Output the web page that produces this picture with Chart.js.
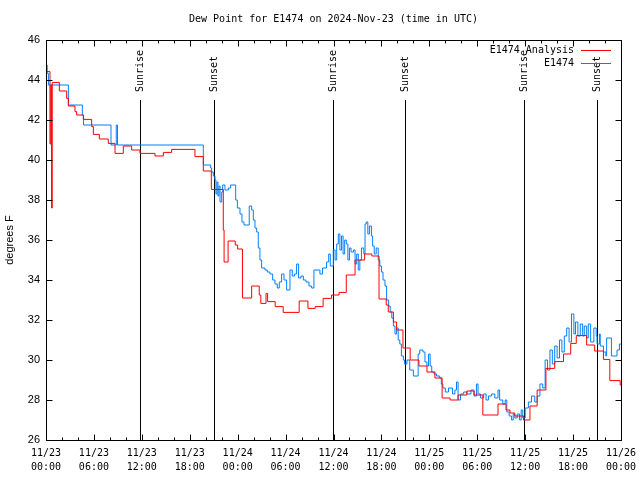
<!DOCTYPE html>
<html>
<head>
<meta charset="utf-8">
<script src="https://cdn.jsdelivr.net/npm/chart.js@4/dist/chart.umd.min.js"></script>
<style>
  html, body { margin: 0; padding: 0; background: #fff; }
  canvas { display: block; }
</style>
</head>
<body>
<canvas id="dewpoint" width="640" height="480"></canvas>
<script>
// hours since 11/23 00:00 UTC, value holds until the next entry
const anaHours = [0, 0.5, 0.6, 0.7, 0.78, 1.67, 2.59, 2.8, 3.63, 3.84, 4.67, 5.72, 5.93, 6.68, 7.8, 8.64, 9.68, 10.72, 11.77, 13.65,
    14.69, 15.73, 18.65, 19.7, 20.7, 22.2, 22.3, 22.8, 23.7, 24.0, 24.6, 25.75, 26.7, 26.9, 27.55, 27.75, 28.7, 29.7, 31.7, 32.8,
    33.7, 34.7, 35.76, 36.7, 37.6, 38.7, 39.9, 40.8, 41.7, 42.6, 42.86, 43.5, 43.9, 44.7, 45.6, 46.7, 47.7, 48.7, 49.6, 50.6,
    51.6, 52.7, 53.6, 54.7, 56.6, 57.6, 58.1, 58.7, 59.8, 60.6, 61.5, 62.6, 63.7, 64.8, 65.7, 66.4, 67.7, 68.7, 69.8, 70.6,
    71.9, 72];
const anaVals = [44.42, 40.8, 43.75, 37.6, 43.88, 43.45, 43.08, 42.7, 42.42, 42.25, 42.03, 41.67, 41.28, 41.05, 40.83, 40.33, 40.7, 40.5, 40.33, 40.2,
    40.38, 40.53, 40.17, 39.45, 38.53, 36.5, 34.9, 35.95, 35.75, 35.55, 33.1, 33.7, 33.25, 32.83, 33.33, 32.92, 32.67, 32.38, 32.95, 32.58,
    32.67, 33.08, 33.25, 33.38, 34.25, 35.0, 35.3, 35.2, 33.05, 32.75, 32.4, 31.9, 31.5, 30.6, 30.0, 29.7, 29.4, 29.1, 28.1, 28.0,
    28.25, 28.45, 28.25, 27.25, 27.8, 27.5, 27.35, 27.2, 27.0, 27.7, 28.5, 29.58, 29.92, 30.3, 30.83, 31.22, 30.75, 30.45, 30.03, 28.97,
    28.75, 28.75];

const obsHours = [0, 0.15, 0.3, 2.8, 4.55, 4.7, 8.14, 8.8, 8.95, 19.7, 20.62, 20.74, 20.95, 21.16, 21.28, 21.41, 21.53, 21.66, 21.79, 22.0,
    22.12, 22.41, 22.83, 23.12, 23.75, 23.96, 24.29, 24.54, 24.79, 25.45, 25.75, 25.96, 26.17, 26.38, 26.58, 26.79, 27.0, 27.42, 27.71, 28.04,
    28.38, 28.67, 28.96, 29.21, 29.5, 29.8, 30.13, 30.55, 30.84, 31.13, 31.38, 31.63, 31.93, 32.22, 32.55, 32.93, 33.26, 33.55, 34.3, 34.63,
    35.13, 35.4, 35.6, 35.97, 36.2, 36.4, 36.6, 36.8, 37.0, 37.2, 37.4, 37.6, 37.8, 38.0, 38.2, 38.5, 38.7, 38.9, 39.1, 39.3,
    39.5, 39.8, 39.95, 40.1, 40.3, 40.5, 40.75, 40.9, 41.1, 41.35, 41.6, 41.8, 42.0, 42.2, 42.45, 42.65, 42.9, 43.1, 43.3, 43.5,
    43.7, 43.9, 44.1, 44.3, 44.5, 44.75, 44.9, 45.2, 45.55, 46.0, 46.6, 46.8, 47.2, 47.45, 47.7, 47.9, 48.1, 48.3, 48.6, 48.9,
    49.3, 49.5, 49.7, 50.0, 50.4, 50.9, 51.2, 51.4, 51.6, 51.9, 52.3, 52.7, 53.2, 53.6, 53.9, 54.1, 54.4, 54.8, 55.1, 55.4,
    55.8, 56.2, 56.6, 56.8, 57.2, 57.5, 57.7, 58.0, 58.3, 58.5, 58.7, 59.0, 59.3, 59.5, 59.7, 60.0, 60.4, 60.8, 61.2, 61.5,
    61.85, 62.2, 62.5, 62.8, 63.1, 63.4, 63.7, 64.0, 64.3, 64.6, 64.9, 65.2, 65.5, 65.8, 66.1, 66.3, 66.6, 66.9, 67.2, 67.4,
    67.7, 67.9, 68.2, 68.6, 68.9, 69.0, 69.3, 69.4, 69.8, 70.1, 70.2, 70.8, 71.5, 71.8, 72];
const obsVals = [44.75, 44.33, 43.75, 42.75, 42.25, 41.75, 40.75, 41.75, 40.75, 39.75, 39.6, 39.4, 39.2, 39.0, 38.3, 38.9, 38.2, 38.7, 37.9, 38.4,
    38.75, 38.5, 38.6, 38.75, 38.0, 37.6, 37.3, 36.9, 36.75, 37.7, 37.5, 37.0, 36.6, 36.4, 35.6, 35.0, 34.6, 34.5, 34.4, 34.3,
    34.0, 33.8, 33.6, 33.9, 34.3, 34.0, 33.5, 34.5, 34.2, 34.3, 34.8, 34.1, 34.2, 34.0, 33.9, 33.7, 33.6, 34.5, 34.3, 34.6,
    34.9, 35.3, 34.7, 35.5, 35.0, 35.8, 36.3, 35.5, 36.2, 35.3, 36.0, 35.8, 35.0, 35.6, 35.4, 35.5, 34.8, 35.3, 34.5, 35.0,
    35.6, 35.3, 36.8, 36.9, 36.3, 36.7, 36.2, 35.7, 35.3, 35.6, 35.0, 34.7, 34.4, 34.0, 33.7, 33.0, 32.7, 32.4, 32.1, 31.7,
    31.3, 31.6, 31.0, 30.8, 30.2, 30.0, 29.8, 30.0, 29.5, 29.2, 30.3, 30.5, 30.4, 29.9, 29.7, 30.3, 29.7, 29.4, 29.3, 29.2,
    29.1, 28.8, 28.6, 28.4, 28.6, 28.3, 28.5, 28.9, 28.0, 28.3, 28.4, 28.3, 28.5, 28.2, 28.8, 28.3, 28.1, 28.3, 28.0, 28.2,
    28.3, 28.1, 28.5, 28.0, 27.8, 28.0, 27.4, 27.2, 27.0, 27.3, 27.1, 27.3, 27.0, 27.5, 27.1, 27.6, 27.9, 28.2, 27.9, 28.2,
    28.8, 28.6, 30.0, 29.5, 30.5, 29.8, 30.7, 30.1, 31.0, 30.4, 31.2, 31.6, 30.9, 32.3, 31.3, 31.9, 31.2, 31.8, 31.2, 31.7,
    31.1, 31.8, 30.9, 31.6, 31.2, 30.8, 31.3, 30.7, 30.4, 30.2, 31.1, 30.2, 30.5, 30.8, 30.8];

const eventHours = [11.8, 21.0, 35.9, 45.0, 59.9, 69.05];
const eventLabels = ['Sunrise', 'Sunset', 'Sunrise', 'Sunset', 'Sunrise', 'Sunset'];

const dateLabels = ['11/23', '11/23', '11/23', '11/23', '11/24', '11/24', '11/24', '11/24', '11/25', '11/25', '11/25', '11/25', '11/26'];
const timeLabels = ['00:00', '06:00', '12:00', '18:00'];

const MONO = '"DejaVu Sans Mono", "Liberation Mono", monospace';
const SANS = '"Liberation Sans", Arial, sans-serif';

function toPoints(xs, ys) {
    return xs.map((h, i) => ({ x: h, y: ys[i] }));
}

// gnuplot-like frame: box, inward ticks, event markers, legend and titles
const gnuplotFrame = {
    id: 'gnuplotFrame',
    beforeDatasetsDraw(chart) {
        const { ctx, chartArea: a, scales: { x, y } } = chart;
        ctx.save();
        ctx.strokeStyle = '#000';
        ctx.lineWidth = 1;
        ctx.fillStyle = '#000';
        ctx.font = '10px ' + MONO;
        eventHours.forEach((h, i) => {
            const px = Math.round(x.getPixelForValue(h)) + 0.5;
            ctx.beginPath();
            ctx.moveTo(px, y.getPixelForValue(43.0));
            ctx.lineTo(px, a.bottom);
            ctx.stroke();
            ctx.save();
            ctx.translate(px, y.getPixelForValue(43.0) - 8);
            ctx.rotate(-Math.PI / 2);
            ctx.textAlign = 'left';
            ctx.textBaseline = 'middle';
            ctx.fillText(eventLabels[i], 0, 0);
            ctx.restore();
        });
        ctx.restore();
    },
    afterDraw(chart) {
        const { ctx, chartArea: a, scales: { x, y } } = chart;
        ctx.save();
        ctx.strokeStyle = '#000';
        ctx.fillStyle = '#000';
        ctx.lineWidth = 1;
        const l = Math.round(a.left) + 0.5, r = Math.round(a.right) + 0.5;
        const t = Math.round(a.top) + 0.5, b = Math.round(a.bottom) + 0.5;
        ctx.strokeRect(l, t, r - l, b - t);

        ctx.beginPath();
        for (let h = 0; h <= 72; h += 2) {
            const px = Math.round(x.getPixelForValue(h)) + 0.5;
            const len = h % 6 === 0 ? 6 : 3;
            ctx.moveTo(px, b); ctx.lineTo(px, b - len);
            ctx.moveTo(px, t); ctx.lineTo(px, t + len);
        }
        for (let v = 26; v <= 46; v += 2) {
            const py = Math.round(y.getPixelForValue(v)) + 0.5;
            ctx.moveTo(l, py); ctx.lineTo(l + 6, py);
            ctx.moveTo(r, py); ctx.lineTo(r - 6, py);
        }
        ctx.stroke();

        // title
        ctx.font = '10px ' + MONO;
        ctx.textAlign = 'center';
        ctx.textBaseline = 'middle';
        ctx.fillText('Dew Point for E1474 on 2024-Nov-23 (time in UTC)', (a.left + a.right) / 2, 19);

        // y axis title
        ctx.save();
        ctx.translate(10, (a.top + a.bottom) / 2);
        ctx.rotate(-Math.PI / 2);
        ctx.font = '11px ' + SANS;
        ctx.fillText('degrees F', 0, 0);
        ctx.restore();

        // legend
        ctx.font = '10px ' + MONO;
        ctx.textAlign = 'right';
        chart.data.datasets.forEach((ds, i) => {
            const ly = a.top + 10 + i * 13;
            ctx.fillStyle = '#000';
            ctx.fillText(ds.label, a.right - 47, ly);
            ctx.strokeStyle = ds.borderColor;
            ctx.beginPath();
            ctx.moveTo(a.right - 40, ly + 0.5);
            ctx.lineTo(a.right - 10, ly + 0.5);
            ctx.stroke();
        });
        ctx.restore();
    }
};

const ctx = document.getElementById('dewpoint').getContext('2d');
const dewChart = new Chart(ctx, {
    type: 'line',
    data: {
        datasets: [{
            label: 'E1474 Analysis',
            data: toPoints(anaHours, anaVals),
            borderColor: '#ff0000',
            borderWidth: 1,
            stepped: true,
            pointRadius: 0,
            fill: false
        }, {
            label: 'E1474',
            data: toPoints(obsHours, obsVals),
            borderColor: '#0080ff',
            borderWidth: 1,
            stepped: true,
            pointRadius: 0,
            fill: false
        }]
    },
    options: {
        responsive: false,
        animation: false,
        devicePixelRatio: 1,
        layout: { padding: { top: 40, right: 19, left: 0, bottom: 0 } },
        plugins: {
            legend: { display: false },
            title: { display: false },
            tooltip: { enabled: false }
        },
        scales: {
            x: {
                type: 'linear',
                min: 0,
                max: 72,
                afterFit(scale) {
                    scale.height = 40;
                    scale.paddingLeft = 0;
                    scale.paddingRight = 0;
                },
                afterBuildTicks(scale) {
                    scale.ticks = dateLabels.map((d, i) => ({ value: i * 6 }));
                },
                grid: { display: false, drawTicks: false },
                border: { display: false },
                ticks: {
                    autoSkip: false,
                    maxRotation: 0,
                    padding: 6,
                    color: '#000',
                    font: { family: MONO, size: 10, lineHeight: 1.4 },
                    callback: (v) => [dateLabels[v / 6], timeLabels[(v / 6) % 4]]
                }
            },
            y: {
                min: 26,
                max: 46,
                afterFit(scale) { scale.width = 46; },
                grid: { display: false, drawTicks: false },
                border: { display: false },
                ticks: {
                    stepSize: 2,
                    padding: 6,
                    color: '#000',
                    font: { family: SANS, size: 11 }
                }
            }
        }
    },
    plugins: [gnuplotFrame]
});
</script>
</body>
</html>
